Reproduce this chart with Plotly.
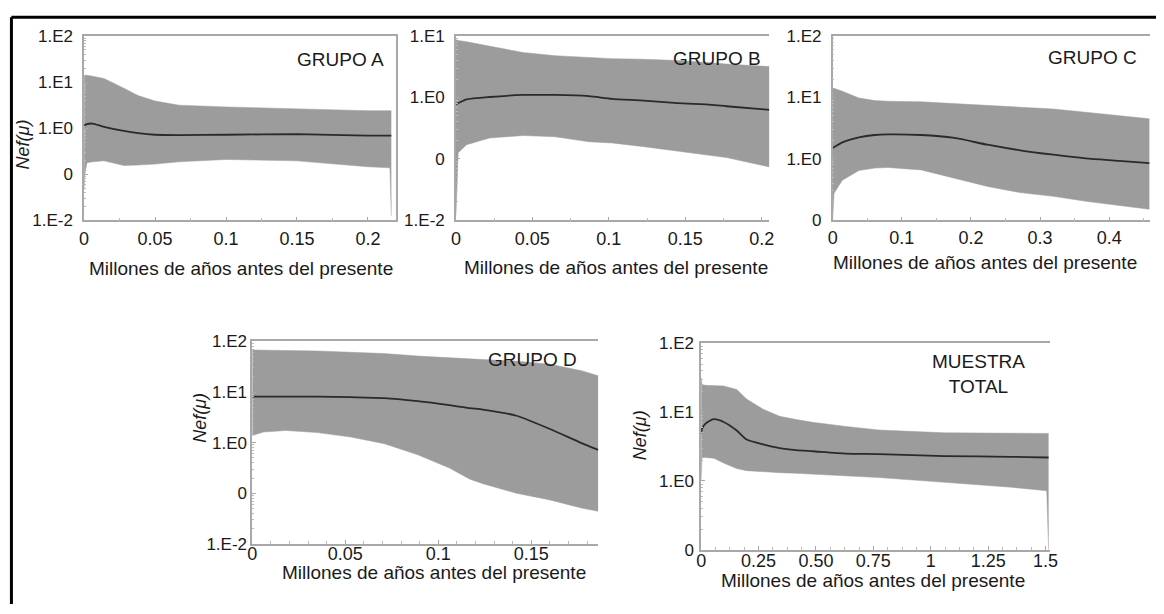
import plotly.graph_objects as go

W, H = 1164, 614

# ---------------- data (Nef values) ----------------
# GRUPO A
a_x = [0, 0.0005, 0.002, 0.006, 0.014, 0.028, 0.038, 0.05, 0.067, 0.1, 0.15, 0.2, 0.2155, 0.2165]
a_upper = [14.1, 14.1, 14.1, 13.5, 12.0, 7.4, 5.1, 3.9, 3.16, 2.9, 2.6, 2.4, 2.4, 2.4]
a_median = [1.15, 1.17, 1.23, 1.26, 1.07, 0.87, 0.78, 0.72, 0.71, 0.72, 0.74, 0.69, 0.69, 0.69]
a_lower = [0.046, 0.10, 0.178, 0.186, 0.195, 0.155, 0.158, 0.166, 0.186, 0.209, 0.195, 0.145, 0.138, 0.0126]

# GRUPO B
b_x = [0, 0.0015, 0.007, 0.022, 0.044, 0.065, 0.087, 0.102, 0.123, 0.145, 0.167, 0.177, 0.205]
b_upper = [8.7, 8.5, 8.1, 6.9, 5.4, 4.8, 4.5, 4.3, 4.2, 4.0, 3.7, 3.5, 3.2]
b_median = [0.78, 0.81, 0.93, 1.02, 1.10, 1.10, 1.05, 0.95, 0.89, 0.81, 0.76, 0.72, 0.63]
b_lower = [0.012, 0.126, 0.17, 0.219, 0.24, 0.229, 0.19, 0.182, 0.158, 0.135, 0.115, 0.105, 0.074]

# GRUPO C
c_x = [0, 0.002, 0.014, 0.038, 0.061, 0.08, 0.128, 0.176, 0.224, 0.271, 0.319, 0.366, 0.414, 0.458]
c_upper = [14.1, 14.1, 12.6, 9.8, 8.9, 8.7, 8.5, 7.9, 7.4, 6.9, 6.5, 5.75, 5.0, 4.5]
c_median = [1.51, 1.55, 1.86, 2.24, 2.45, 2.51, 2.45, 2.19, 1.70, 1.38, 1.17, 1.02, 0.93, 0.85]
c_lower = [0.105, 0.275, 0.447, 0.646, 0.708, 0.724, 0.661, 0.479, 0.355, 0.282, 0.245, 0.204, 0.174, 0.151]

# GRUPO D
d_x = [0, 0.006, 0.018, 0.035, 0.053, 0.071, 0.089, 0.106, 0.117, 0.124, 0.142, 0.16, 0.177, 0.186]
d_upper = [67.6, 67.6, 66.1, 64.6, 61.7, 57.5, 51.3, 46.8, 44.7, 43.7, 40.7, 35.5, 26.3, 20.9]
d_median = [8.1, 8.1, 8.1, 8.1, 7.9, 7.6, 6.6, 5.5, 4.8, 4.5, 3.4, 1.86, 0.98, 0.72]
d_lower = [1.38, 1.62, 1.74, 1.58, 1.29, 0.955, 0.575, 0.316, 0.19, 0.155, 0.10, 0.074, 0.051, 0.044]

# MUESTRA TOTAL
e_x = [0, 0.004, 0.019, 0.055, 0.098, 0.155, 0.198, 0.27, 0.342, 0.414, 0.486, 0.63, 0.773, 1.06, 1.35, 1.505, 1.513]
e_upper = [32.4, 25.1, 24.5, 24.5, 24.0, 21.4, 15.5, 11.0, 8.7, 7.8, 7.1, 6.2, 5.5, 5.0, 4.9, 4.9, 4.9]
e_median = [4.9, 5.75, 6.8, 7.9, 7.2, 5.4, 4.0, 3.4, 3.0, 2.8, 2.7, 2.5, 2.45, 2.3, 2.24, 2.19, 2.19]
e_lower = [1.0, 2.19, 2.19, 2.14, 1.82, 1.51, 1.41, 1.35, 1.32, 1.29, 1.26, 1.19, 1.12, 0.955, 0.81, 0.72, 0.10]

# tick values / labels
y4_vals = [0.01, 0.1, 1, 10, 100]
y4_text = ["1.E-2", "0", "1.E0", "1.E1", "1.E2"]
yb_vals = [0.01, 0.1, 1, 10]
yb_text = ["1.E-2", "0", "1.E0", "1.E1"]
yc_vals = [0.1, 1, 10, 100]
yc_text = ["0", "1.E0", "1.E1", "1.E2"]

xa_vals = [0, 0.05, 0.1, 0.15, 0.2]
xa_text = ["0", "0.05", "0.1", "0.15", "0.2"]
xc_vals = [0, 0.1, 0.2, 0.3, 0.4]
xc_text = ["0", "0.1", "0.2", "0.3", "0.4"]
xd_vals = [0, 0.05, 0.1, 0.15]
xd_text = ["0", "0.05", "0.1", "0.15"]
xe_vals = [0, 0.25, 0.5, 0.75, 1, 1.25, 1.5]
xe_text = ["0", "0.25", "0.50", "0.75", "1", "1.25", "1.5"]

group_labels = ["GRUPO A", "GRUPO B", "GRUPO C", "GRUPO D", "MUESTRA<br>TOTAL"]
x_title = "Millones de años antes del presente"
y_title = "<i>Nef(μ)</i>"

FONT = "Liberation Sans, Arial, sans-serif"
BAND = "#9c9c9c"
LINE = "#2a2a2a"
AXIS = "#a8a8a8"


def dx(px):
    return min(1.0, max(0.0, px / W))


def dy(py):
    return min(1.0, max(0.0, 1 - py / H))


# panel layout in page pixels: (left, right, top, bottom)
panels = [
    dict(data=(a_x, a_upper, a_median, a_lower), box=(80, 395, 28, 218), xr=[0, 0.2195], yr=[-2, 2],
         xv=xa_vals, xt=xa_text, yv=y4_vals, yt=y4_text, xmin=0.025, right=True, xs=1, ys=6),
    dict(data=(b_x, b_upper, b_median, b_lower), box=(456, 773, 28, 218), xr=[0, 0.205], yr=[-2, 1],
         xv=xa_vals, xt=xa_text, yv=yb_vals, yt=yb_text, xmin=0.025, right=False, xs=1, ys=6),
    dict(data=(c_x, c_upper, c_median, c_lower), box=(837, 1158, 28, 218), xr=[0, 0.459], yr=[-1, 2],
         xv=xc_vals, xt=xc_text, yv=yc_vals, yt=yc_text, xmin=0.05, right=False, xs=0, ys=6),
    dict(data=(d_x, d_upper, d_median, d_lower), box=(250, 600, 343, 552), xr=[0, 0.186], yr=[-2, 2],
         xv=xd_vals, xt=xd_text, yv=y4_vals, yt=y4_text, xmin=0.01, right=False, xs=-7, ys=0),
    dict(data=(e_x, e_upper, e_median, e_lower), box=(704, 1057, 345, 558), xr=[0, 1.52], yr=[-1, 2],
         xv=xe_vals, xt=xe_text, yv=yc_vals, yt=yc_text, xmin=0.0625, right=False, xs=-6, ys=2),
]

fig = go.Figure()
layout = {}
for i, p in enumerate(panels, start=1):
    xs, up, med, low = p["data"]
    xa = "x" if i == 1 else f"x{i}"
    ya = "y" if i == 1 else f"y{i}"
    fig.add_trace(go.Scatter(x=xs, y=up, xaxis=xa, yaxis=ya, mode="lines",
                             line=dict(width=0.5, color=BAND), showlegend=False, hoverinfo="skip"))
    fig.add_trace(go.Scatter(x=xs, y=low, xaxis=xa, yaxis=ya, mode="lines", fill="tonexty",
                             fillcolor=BAND, line=dict(width=0.5, color=BAND), showlegend=False,
                             hoverinfo="skip"))
    fig.add_trace(go.Scatter(x=xs, y=med, xaxis=xa, yaxis=ya, mode="lines",
                             line=dict(width=1.8, color=LINE, shape="spline", smoothing=0.6),
                             showlegend=False))
    l, r, t, b = p["box"]
    xkey = "xaxis" if i == 1 else f"xaxis{i}"
    ykey = "yaxis" if i == 1 else f"yaxis{i}"
    layout[xkey] = dict(
        domain=[dx(l), dx(r)], anchor=ya, range=p["xr"], tickmode="array",
        tickvals=p["xv"], ticktext=p["xt"], showline=True, linecolor=AXIS, linewidth=1.5,
        mirror=True, ticks="inside", ticklen=4, tickcolor=AXIS, showgrid=False, zeroline=False,
        tickfont=dict(family=FONT, size=18, color="#1a1a1a"), ticklabelstandoff=p["xs"],
        minor=dict(ticks="inside", ticklen=3, tickcolor="#bbbbbb", dtick=p["xmin"], tick0=0,
                   showgrid=False),
    )
    layout[ykey] = dict(
        domain=[dy(b), dy(t)], anchor=xa, type="log", range=p["yr"], tickmode="array",
        tickvals=p["yv"], ticktext=p["yt"], showline=True, linecolor=AXIS, linewidth=1.5,
        mirror=p["right"], ticks="inside", ticklen=4, tickcolor=AXIS, showgrid=False,
        zeroline=False, tickfont=dict(family=FONT, size=17, color="#1a1a1a"),
        ticklabelstandoff=p["ys"],
        minor=dict(ticks="inside", ticklen=2, tickcolor="#bbbbbb", dtick="D1", showgrid=False),
    )

ann = []


def add_text(text, px, py, size, angle=0):
    ann.append(dict(text=text, x=dx(px), y=dy(py), xref="paper", yref="paper",
                    xanchor="center", yanchor="middle", showarrow=False, textangle=angle,
                    font=dict(family=FONT, size=size, color="#1a1a1a")))


group_pos = [(339, 52), (720, 51), (1100, 50), (533, 362), (985, 377)]
for txt, (gx, gy) in zip(group_labels, group_pos):
    add_text(txt, gx, gy, 19)

for (tx, ty) in [(239, 268), (618, 267), (991, 262), (434, 582), (878, 590)]:
    add_text(x_title, tx, ty, 19)

for (tx, ty) in [(18, 140), (197, 422), (643, 440)]:
    add_text(y_title, tx, ty, 18, angle=-90)

shapes = [
    dict(type="line", xref="paper", yref="paper", x0=dx(6.5), x1=1, y0=dy(8.5), y1=dy(8.5),
         line=dict(color="black", width=3)),
    dict(type="line", xref="paper", yref="paper", x0=dx(6.5), x1=dx(6.5), y0=0, y1=dy(8.5),
         line=dict(color="black", width=3)),
]

fig.update_layout(
    width=W, height=H, autosize=False, margin=dict(l=0, r=0, t=0, b=0),
    paper_bgcolor="white", plot_bgcolor="white", showlegend=False,
    annotations=ann, shapes=shapes, **layout,
)

fig.write_html(
    "out.html",
    config={"displayModeBar": False},
    post_script="document.body.style.margin='0px';document.body.style.overflow='hidden';",
)
